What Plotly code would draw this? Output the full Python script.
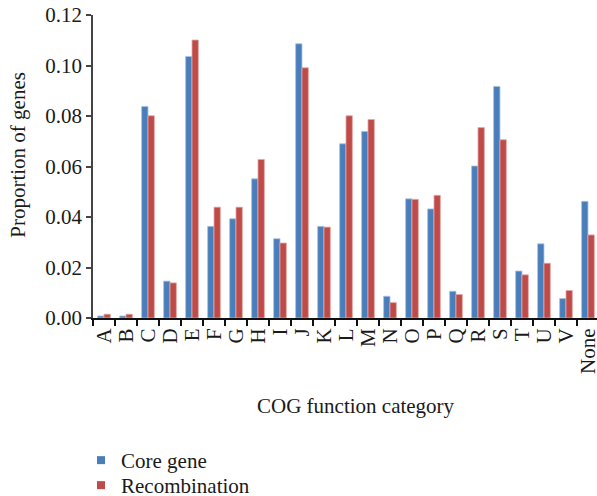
import plotly.graph_objects as go

categories = ["A", "B", "C", "D", "E", "F", "G", "H", "I", "J", "K", "L",
              "M", "N", "O", "P", "Q", "R", "S", "T", "U", "V", "None"]
core_gene = [0.0008, 0.0008, 0.0838, 0.0146, 0.1036, 0.0363, 0.0393, 0.0551,
             0.0314, 0.1086, 0.0363, 0.0690, 0.0739, 0.0086, 0.0472, 0.0432,
             0.0106, 0.0602, 0.0917, 0.0186, 0.0294, 0.0077, 0.0462]
recombination = [0.0015, 0.0015, 0.0801, 0.0139, 0.1101, 0.0439, 0.0439, 0.0628,
                 0.0297, 0.0991, 0.0360, 0.0801, 0.0786, 0.0061, 0.0470, 0.0486,
                 0.0093, 0.0754, 0.0706, 0.0171, 0.0217, 0.0109, 0.0329]
series_names = ["Core gene", "Recombination"]
y_ticks = [0.0, 0.02, 0.04, 0.06, 0.08, 0.10, 0.12]
y_tick_text = ["0.00", "0.02", "0.04", "0.06", "0.08", "0.10", "0.12"]

BLUE = "#4A7EBB"
RED = "#BE4B48"
FONT = "Liberation Serif"

fig = go.Figure()
fig.add_trace(go.Bar(x=categories, y=core_gene, name=series_names[0],
                     marker=dict(color=BLUE, line=dict(color="#A9C3E3", width=0.8)),
                     showlegend=False))
fig.add_trace(go.Bar(x=categories, y=recombination, name=series_names[1],
                     marker=dict(color=RED, line=dict(color="#E3AAA8", width=0.8)),
                     showlegend=False))
# legend entries (small square symbols), one legend box each for exact spacing
fig.add_trace(go.Scatter(x=[None], y=[None], mode="markers", name=series_names[0],
                         marker=dict(symbol="square", size=8, color=BLUE),
                         legend="legend"))
fig.add_trace(go.Scatter(x=[None], y=[None], mode="markers", name=series_names[1],
                         marker=dict(symbol="square", size=8, color=RED),
                         legend="legend2"))

legend_common = dict(xref="container", yref="container", x=81 / 597,
                     xanchor="left", yanchor="top", font=dict(size=21, family=FONT),
                     itemwidth=30, bgcolor="rgba(0,0,0,0)")

fig.update_layout(
    width=597, height=496,
    margin=dict(l=93, r=0, t=15, b=178, pad=0, autoexpand=False),
    paper_bgcolor="white", plot_bgcolor="white",
    font=dict(family=FONT, size=21, color="#1a1a1a"),
    barmode="group", bargap=0.42, bargroupgap=0.0,
    legend=dict(y=1 - 440 / 496, **legend_common),
    legend2=dict(y=1 - 465 / 496, **legend_common),
    xaxis=dict(type="category", range=[-0.5, 22.41], showline=True, linecolor="#111",
               linewidth=2, ticks="outside", tickson="boundaries", ticklen=6,
               tickcolor="#111", tickwidth=1.5, tickangle=-90, showgrid=False,
               dtick=1, automargin=False,
               tickfont=dict(size=21, family=FONT), zeroline=False),
    yaxis=dict(range=[0, 0.12], tickvals=y_ticks, ticktext=y_tick_text,
               showline=True, linecolor="#444", linewidth=1.5, ticks="outside",
               ticklen=5, tickcolor="#444", tickwidth=1.5, showgrid=False,
               automargin=False,
               zeroline=False, tickfont=dict(size=21, family=FONT)),
    annotations=[
        dict(text="COG function category", xref="paper", yref="paper",
             x=(356 - 93) / 504, y=(318.5 - 407) / 303.5, showarrow=False,
             xanchor="center", yanchor="middle", font=dict(size=21, family=FONT)),
        dict(text="Proportion of genes", xref="paper", yref="paper",
             x=(18 - 93) / 504, y=(318.5 - 155) / 303.5, showarrow=False,
             textangle=-90, xanchor="center", yanchor="middle",
             font=dict(size=21, family=FONT)),
    ],
)

fig.write_html("out.html", config={"displayModeBar": False},
               post_script="document.body.style.margin='0';document.body.style.overflow='hidden';")
